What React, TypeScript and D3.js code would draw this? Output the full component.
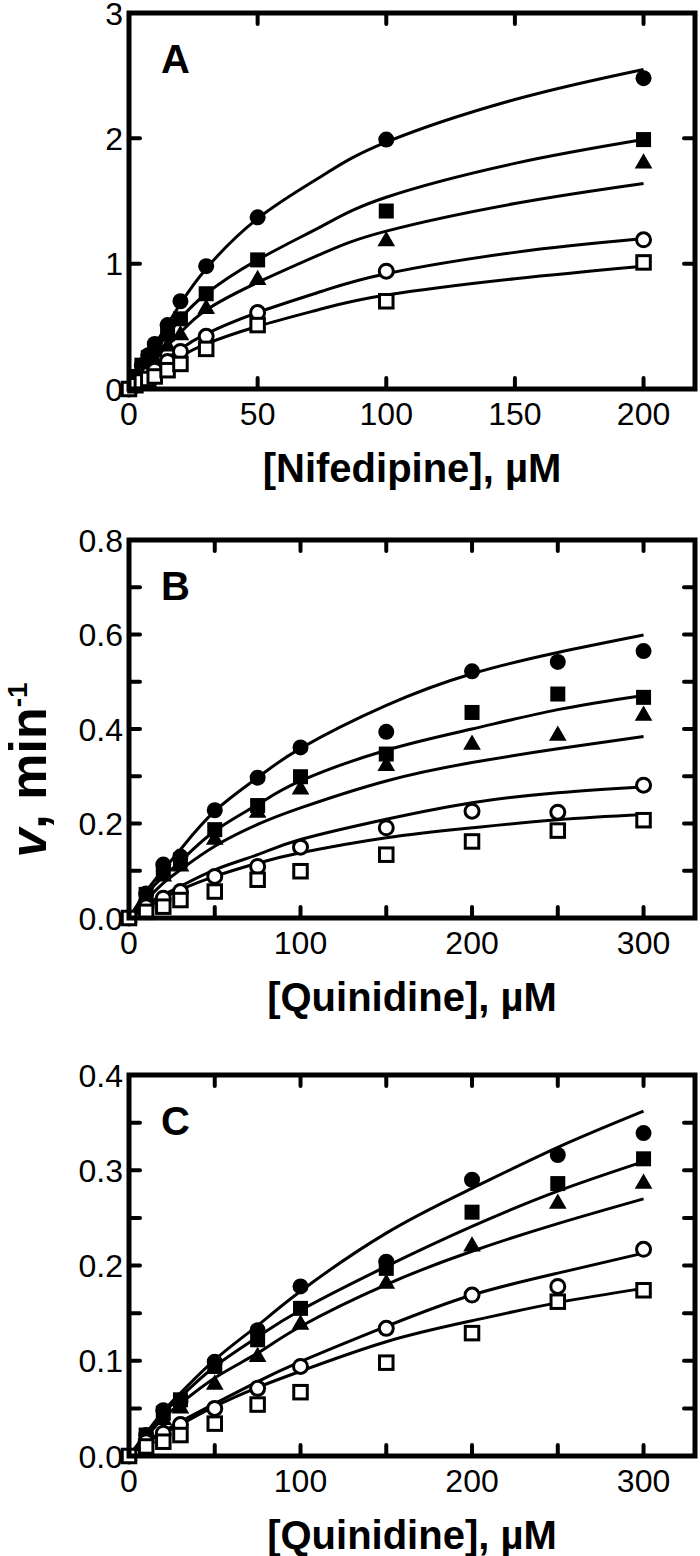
import { useRef, useEffect } from 'react';
import * as d3 from 'd3';

// x concentrations (µM)
const nifX = [0, 2.5, 5, 7.5, 10, 15, 20, 30, 50, 100, 200];
const quinX = [0, 10, 20, 30, 50, 75, 100, 150, 200, 250, 300];
const fitXA = [0, 10, 20, 30, 50, 75, 100, 150, 200];
const fitXBC = [0, 10, 20, 30, 50, 75, 100, 150, 200, 250, 300];

// Panel A, nifedipine: measured rates
const aFilledCircle = [0, 0.09, 0.19, 0.27, 0.36, 0.51, 0.7, 0.98, 1.37, 1.99, 2.48];
const aFilledSquare = [0, 0.1, 0.19, 0.25, 0.31, 0.44, 0.56, 0.76, 1.03, 1.42, 1.99];
const aFilledTriangle = [0, 0.06, 0.13, 0.18, 0.23, 0.34, 0.43, 0.64, 0.87, 1.18, 1.8];
const aOpenCircle = [0, 0.04, 0.08, 0.12, 0.15, 0.22, 0.3, 0.42, 0.61, 0.94, 1.19];
const aOpenSquare = [0, 0.03, 0.06, 0.08, 0.1, 0.15, 0.2, 0.32, 0.51, 0.7, 1.01];
// Panel A fitted curves
const aFit1 = [0, 0.35, 0.68, 0.96, 1.36, 1.7, 1.97, 2.31, 2.55];
const aFit2 = [0, 0.3, 0.56, 0.76, 1.03, 1.3, 1.53, 1.8, 1.99];
const aFit3 = [0, 0.24, 0.45, 0.63, 0.85, 1.08, 1.26, 1.48, 1.64];
const aFit4 = [0, 0.17, 0.32, 0.44, 0.61, 0.78, 0.92, 1.09, 1.2];
const aFit5 = [0, 0.14, 0.26, 0.36, 0.5, 0.64, 0.75, 0.88, 0.98];

// Panel B, quinidine
const bFilledCircle = [0, 0.052, 0.113, 0.13, 0.228, 0.297, 0.361, 0.394, 0.522, 0.542, 0.565];
const bFilledSquare = [0, 0.05, 0.095, 0.123, 0.187, 0.238, 0.299, 0.347, 0.435, 0.474, 0.467];
const bFilledTriangle = [0, 0.045, 0.088, 0.109, 0.166, 0.223, 0.272, 0.322, 0.367, 0.386, 0.428];
const bOpenCircle = [0, 0.024, 0.042, 0.056, 0.088, 0.109, 0.15, 0.191, 0.226, 0.224, 0.281];
const bOpenSquare = [0, 0.013, 0.024, 0.038, 0.056, 0.081, 0.099, 0.134, 0.162, 0.185, 0.207];
const bFit1 = [0, 0.056, 0.102, 0.145, 0.226, 0.297, 0.359, 0.45, 0.517, 0.562, 0.599];
const bFit2 = [0, 0.049, 0.088, 0.12, 0.184, 0.24, 0.29, 0.355, 0.4, 0.441, 0.471];
const bFit3 = [0, 0.038, 0.074, 0.102, 0.152, 0.198, 0.233, 0.29, 0.329, 0.358, 0.384];
const bFit4 = [0, 0.028, 0.049, 0.067, 0.102, 0.134, 0.166, 0.209, 0.244, 0.265, 0.278];
const bFit5 = [0, 0.021, 0.042, 0.06, 0.088, 0.116, 0.138, 0.17, 0.191, 0.208, 0.219];

// Panel C, quinidine
const cFilledCircle = [0, 0.022, 0.048, 0.057, 0.099, 0.132, 0.178, 0.204, 0.29, 0.316, 0.339];
const cFilledSquare = [0, 0.022, 0.045, 0.059, 0.094, 0.122, 0.155, 0.197, 0.256, 0.286, 0.312];
const cFilledTriangle = [0, 0.019, 0.038, 0.05, 0.075, 0.104, 0.138, 0.181, 0.22, 0.265, 0.286];
const cOpenCircle = [0, 0.015, 0.024, 0.033, 0.05, 0.071, 0.094, 0.134, 0.169, 0.178, 0.217];
const cOpenSquare = [0, 0.01, 0.015, 0.022, 0.034, 0.054, 0.067, 0.098, 0.129, 0.162, 0.174];
const cFit1 = [0, 0.024, 0.047, 0.066, 0.101, 0.137, 0.173, 0.234, 0.281, 0.324, 0.362];
const cFit2 = [0, 0.022, 0.045, 0.062, 0.094, 0.125, 0.153, 0.199, 0.241, 0.278, 0.309];
const cFit3 = [0, 0.02, 0.04, 0.055, 0.082, 0.108, 0.136, 0.18, 0.215, 0.244, 0.27];
const cFit4 = [0, 0.015, 0.026, 0.036, 0.055, 0.078, 0.099, 0.136, 0.169, 0.192, 0.213];
const cFit5 = [0, 0.014, 0.024, 0.033, 0.052, 0.072, 0.089, 0.12, 0.142, 0.161, 0.176];

const markers = ['filledCircle', 'filledSquare', 'filledTriangle', 'openCircle', 'openSquare'];

const FONT = '"Liberation Sans", Arial, Helvetica, sans-serif';

const panels = [
  {
    letter: 'A', title: '[Nifedipine], µM',
    left: 129, right: 695, top: 13, bottom: 389,
    xMax: 220, yMax: 3,
    xTicks: [0, 50, 100, 150, 200], xLabels: [0, 50, 100, 150, 200],
    yTicks: [0, 1, 2, 3], yLabels: [0, 1, 2, 3], yFmt: d3.format('d'),
    px: nifX, points: [aFilledCircle, aFilledSquare, aFilledTriangle, aOpenCircle, aOpenSquare],
    fx: fitXA, fits: [aFit1, aFit2, aFit3, aFit4, aFit5],
  },
  {
    letter: 'B', title: '[Quinidine], µM',
    left: 129, right: 695, top: 540, bottom: 918,
    xMax: 330, yMax: 0.8,
    xTicks: [0, 50, 100, 150, 200, 250, 300], xLabels: [0, 100, 200, 300],
    yTicks: [0, 0.1, 0.2, 0.3, 0.4, 0.5, 0.6, 0.7, 0.8], yLabels: [0, 0.2, 0.4, 0.6, 0.8], yFmt: d3.format('.1f'),
    px: quinX, points: [bFilledCircle, bFilledSquare, bFilledTriangle, bOpenCircle, bOpenSquare],
    fx: fitXBC, fits: [bFit1, bFit2, bFit3, bFit4, bFit5],
  },
  {
    letter: 'C', title: '[Quinidine], µM',
    left: 129, right: 695, top: 1075, bottom: 1456,
    xMax: 330, yMax: 0.4,
    xTicks: [0, 50, 100, 150, 200, 250, 300], xLabels: [0, 100, 200, 300],
    yTicks: [0, 0.05, 0.1, 0.15, 0.2, 0.25, 0.3, 0.35, 0.4], yLabels: [0, 0.1, 0.2, 0.3, 0.4], yFmt: d3.format('.1f'),
    px: quinX, points: [cFilledCircle, cFilledSquare, cFilledTriangle, cOpenCircle, cOpenSquare],
    fx: fitXBC, fits: [cFit1, cFit2, cFit3, cFit4, cFit5],
  },
];

export default function App() {
  const ref = useRef<SVGSVGElement>(null);

  useEffect(() => {
    const svg = d3.select(ref.current);
    svg.selectAll('*').remove();
    const tickLen = 11;

    panels.forEach(p => {
      const x = d3.scaleLinear().domain([0, p.xMax]).range([p.left, p.right]);
      const y = d3.scaleLinear().domain([0, p.yMax]).range([p.bottom, p.top]);
      const g = svg.append('g');

      // fitted curves
      const line = d3.line<[number, number]>()
        .x(d => x(d[0]))
        .y(d => y(d[1]))
        .curve(d3.curveNatural);
      p.fits.forEach(f => {
        g.append('path')
          .datum(p.fx.map((v, i) => [v, f[i]] as [number, number]))
          .attr('fill', 'none')
          .attr('stroke', '#000')
          .attr('stroke-width', 3)
          .attr('d', line);
      });

      // data points
      p.points.forEach((s, si) => {
        const kind = markers[si];
        const open = kind.startsWith('open');
        s.forEach((v, i) => {
          const cx = x(p.px[i]);
          const cy = y(v);
          let el;
          if (kind.endsWith('Circle')) {
            el = g.append('circle').attr('cx', cx).attr('cy', cy).attr('r', open ? 7 : 8);
          } else if (kind.endsWith('Square')) {
            const s2 = open ? 13.5 : 15;
            el = g.append('rect').attr('x', cx - s2 / 2).attr('y', cy - s2 / 2).attr('width', s2).attr('height', s2);
          } else {
            el = g.append('path')
              .attr('transform', `translate(${cx},${cy})`)
              .attr('d', d3.symbol(d3.symbolTriangle, 135)());
          }
          el.attr('fill', open ? '#fff' : '#000')
            .attr('stroke', '#000')
            .attr('stroke-width', open ? 3 : 0);
        });
      });

      // ticks (inward, mirrored)
      p.xTicks.forEach(t => {
        const tx = x(t);
        g.append('line').attr('x1', tx).attr('x2', tx).attr('y1', p.bottom).attr('y2', p.bottom - tickLen);
        g.append('line').attr('x1', tx).attr('x2', tx).attr('y1', p.top).attr('y2', p.top + tickLen);
      });
      p.yTicks.forEach(t => {
        const ty = y(t);
        g.append('line').attr('y1', ty).attr('y2', ty).attr('x1', p.left).attr('x2', p.left + tickLen);
        g.append('line').attr('y1', ty).attr('y2', ty).attr('x1', p.right).attr('x2', p.right - tickLen);
      });
      g.selectAll('line').attr('stroke', '#000').attr('stroke-width', 4).attr('stroke-linecap', 'round');

      // frame
      g.append('rect')
        .attr('x', p.left).attr('y', p.top)
        .attr('width', p.right - p.left).attr('height', p.bottom - p.top)
        .attr('fill', 'none').attr('stroke', '#000').attr('stroke-width', 5);

      // tick labels
      p.xLabels.forEach(t => {
        g.append('text').attr('x', x(t)).attr('y', p.bottom + 36)
          .attr('text-anchor', 'middle').attr('font-size', 32).attr('font-family', FONT)
          .text(t);
      });
      p.yLabels.forEach(t => {
        g.append('text').attr('x', p.left - 6).attr('y', y(t)).attr('dy', '0.36em')
          .attr('text-anchor', 'end').attr('font-size', 32).attr('font-family', FONT)
          .text(p.yFmt(t));
      });

      // panel letter
      g.append('text').attr('x', p.left + 32).attr('y', p.top + 60)
        .attr('font-size', 40).attr('font-weight', 'bold').attr('font-family', FONT)
        .text(p.letter);

      // x axis title
      g.append('text').attr('x', (p.left + p.right) / 2).attr('y', p.bottom + 93)
        .attr('text-anchor', 'middle').attr('font-size', 40).attr('font-weight', 'bold').attr('font-family', FONT)
        .text(p.title);
    });

    // y axis title
    const yt = svg.append('text')
      .attr('transform', 'translate(46,770) rotate(-90)')
      .attr('text-anchor', 'middle').attr('font-size', 52).attr('font-weight', 'bold').attr('font-family', FONT);
    yt.append('tspan').attr('font-style', 'italic').text('v');
    yt.append('tspan').text(', min');
    yt.append('tspan').attr('font-size', 28).attr('dy', -19).text('-1');
  }, []);

  return (
    <svg ref={ref} width={700} height={1556}
      style={{ position: 'absolute', left: 0, top: 0, display: 'block', background: '#fff' }} />
  );
}
